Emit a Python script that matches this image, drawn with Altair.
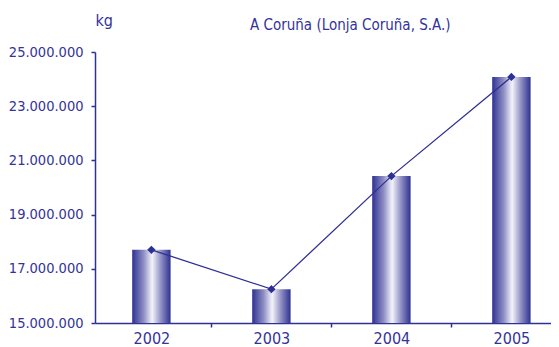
import altair as alt
import pandas as pd

years = ["2002", "2003", "2004", "2005"]
values = [17700000, 16250000, 20420000, 24080000]
y_ticks = [15000000, 17000000, 19000000, 21000000, 23000000, 25000000]
y_base = 15000000

NAVY = "#2e3192"
TEXT = "#333399"
FONT = "Liberation Sans Narrow, DejaVu Sans Condensed, Arial Narrow, sans-serif"

df = pd.DataFrame({
    "idx": list(range(len(years))),
    "year": years,
    "value": values,
})
df["x0"] = df["idx"] - 0.16
df["x1"] = df["idx"] + 0.16

xscale = alt.Scale(domain=[-0.47, 3.33], nice=False, zero=False)
yscale = alt.Scale(domain=[15000000, 25000000], nice=False, zero=False)

label_expr = "datum.value % 1 === 0 ? ['2002','2003','2004','2005'][datum.value] : ''"

x_axis = alt.Axis(
    values=[0, 0.5, 1, 1.5, 2, 2.5, 3],
    labelExpr=label_expr,
    title=None,
    grid=False,
    domainColor=NAVY,
    domainWidth=1.5,
    tickColor=NAVY,
    tickWidth=1.5,
    tickSize=4,
    tickOpacity={"condition": {"test": "datum.value % 1 === 0", "value": 0}, "value": 1},
    labelColor=TEXT,
    labelFont=FONT,
    labelFontSize=16,
    labelPadding=3,
)

y_axis = alt.Axis(
    values=y_ticks,
    labelExpr="replace(format(datum.value, ',d'), /,/g, '.')",
    title="kg",
    titleAngle=0,
    titleX=0,
    titleY=-27,
    titleAlign="left",
    titleBaseline="alphabetic",
    titleColor=TEXT,
    titleFont=FONT,
    titleFontSize=16,
    titleFontWeight="normal",
    grid=False,
    domainColor=NAVY,
    domainWidth=1.5,
    tickColor=NAVY,
    tickWidth=1.5,
    tickSize=4,
    labelColor=TEXT,
    labelFont=FONT,
    labelFontSize=14.5,
    labelPadding=8,
)

gradient = alt.Gradient(
    gradient="linear",
    x1=0, y1=0, x2=1, y2=0,
    stops=[
        alt.GradientStop(color=NAVY, offset=0),
        alt.GradientStop(color="#8f8fc4", offset=0.3),
        alt.GradientStop(color="#f4f4fb", offset=0.52),
        alt.GradientStop(color="#8f8fc4", offset=0.75),
        alt.GradientStop(color=NAVY, offset=1),
    ],
)

bars = alt.Chart(df).mark_bar(color=gradient).encode(
    x=alt.X("x0:Q", scale=xscale, axis=x_axis),
    x2="x1:Q",
    y=alt.Y("value:Q", scale=yscale, axis=y_axis),
    y2=alt.datum(y_base),
)

line = alt.Chart(df).mark_line(color=NAVY, strokeWidth=1.3).encode(
    x=alt.X("idx:Q", scale=xscale),
    y=alt.Y("value:Q", scale=yscale),
)

points = alt.Chart(df).mark_point(
    shape="diamond", filled=True, color=NAVY, size=70, opacity=1
).encode(
    x=alt.X("idx:Q", scale=xscale),
    y=alt.Y("value:Q", scale=yscale),
)

chart = alt.layer(bars, line, points).properties(
    width=456,
    height=271,
    title=alt.TitleParams(
        "A Coruña (Lonja Coruña, S.A.)",
        anchor="start",
        frame="group",
        dx=155,
        offset=-33,
        baseline="alphabetic",
        color=TEXT,
        font=FONT,
        fontSize=15,
        fontWeight="normal",
    ),
    autosize=alt.AutoSizeParams(type="none"),
    padding={"left": 87, "top": 44, "right": 0, "bottom": 30},
).configure(background="white").configure_view(stroke=None)

chart.save("out.html", embed_options={"renderer": "svg", "actions": False})
